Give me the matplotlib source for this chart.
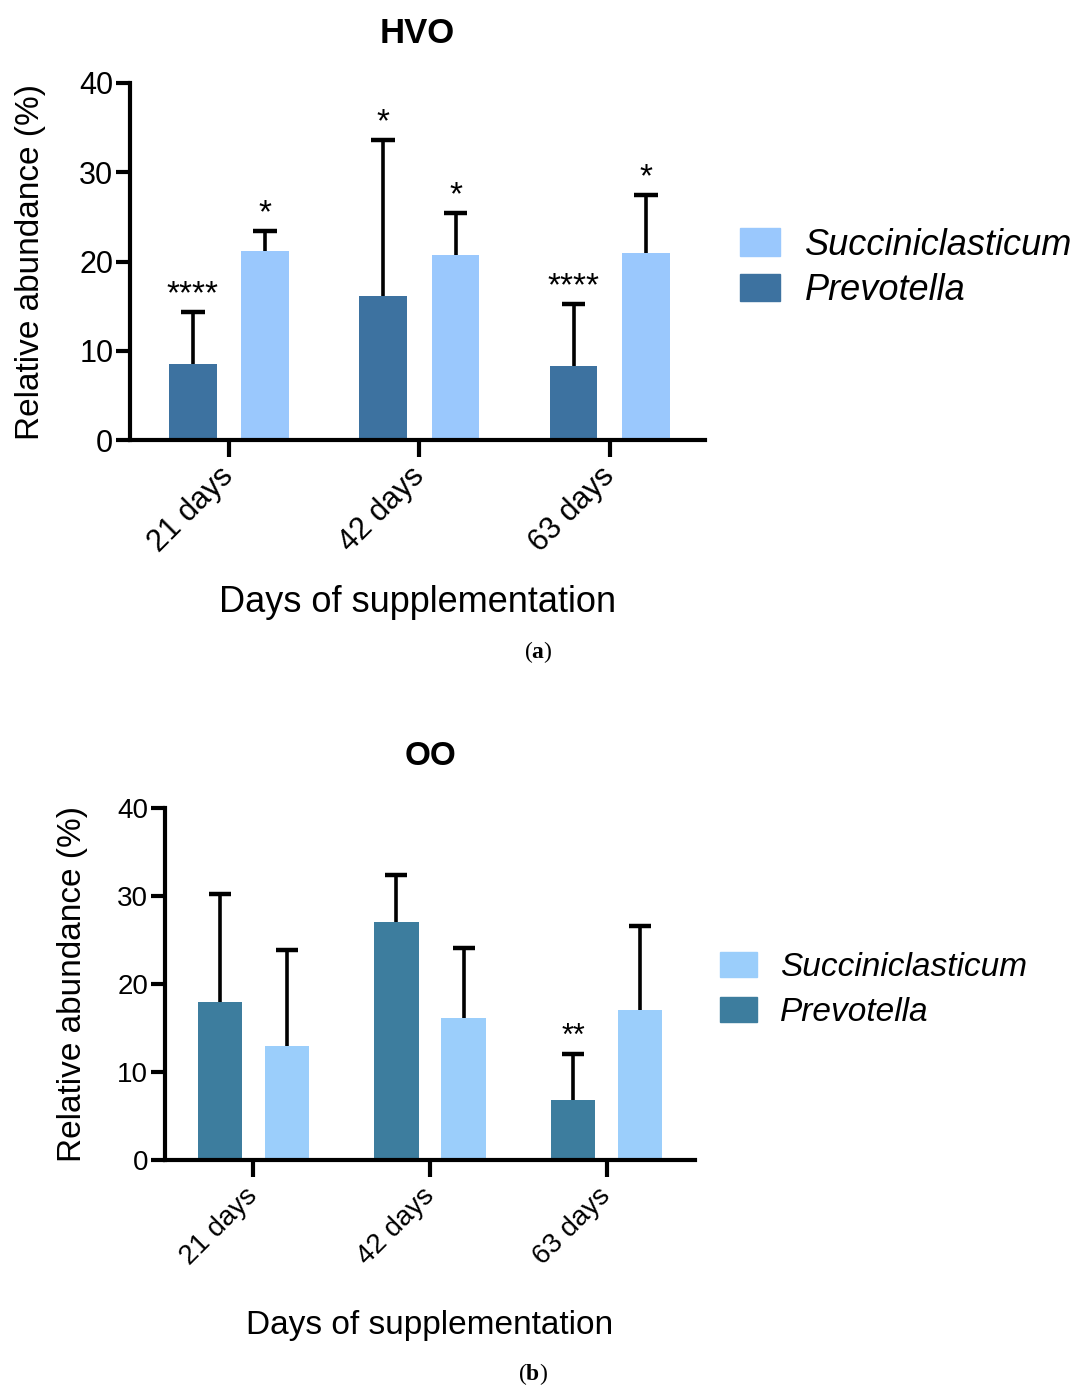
import matplotlib
matplotlib.use("Agg")
import matplotlib.pyplot as plt
from matplotlib.patches import Patch
import numpy as np

plt.rcParams['font.family'] = ['Liberation Sans', 'DejaVu Sans']
plt.rcParams['mathtext.fontset'] = 'custom'
plt.rcParams['mathtext.rm'] = 'Liberation Serif'
plt.rcParams['mathtext.bf'] = 'Liberation Serif:bold'

days = ["21 days", "42 days", "63 days"]

# HVO panel
hvo_prev = [8.5, 16.1, 8.3]
hvo_prev_err = [5.8, 17.5, 6.9]
hvo_succ = [21.2, 20.75, 20.9]
hvo_succ_err = [2.2, 4.65, 6.5]
hvo_prev_sig = ["****", "*", "****"]
hvo_succ_sig = ["*", "*", "*"]

# OO panel
oo_prev = [17.9, 27.05, 6.85]
oo_prev_err = [12.3, 5.35, 5.25]
oo_succ = [13.0, 16.1, 17.05]
oo_succ_err = [10.9, 8.0, 9.55]
oo_prev_sig = ["", "", "**"]
oo_succ_sig = ["", "", ""]

W, H = 1076, 1389
fig = plt.figure(figsize=(W / 100, H / 100), dpi=100)


def panel(rect, title, prev, prev_err, succ, succ_err, prev_sig, succ_sig,
          c_prev, c_succ, leg_xy, xlim, fs):
    ax = fig.add_axes(rect)
    x = np.arange(len(days))
    off, bw, cap = 0.19, 0.25, 0.062
    for xs, vals, errs, sig, col in [(x - off, prev, prev_err, prev_sig, c_prev),
                                     (x + off, succ, succ_err, succ_sig, c_succ)]:
        ax.bar(xs, vals, bw, color=col, zorder=2)
        tops = np.array(vals) + np.array(errs)
        ax.vlines(xs, vals, tops, color='black', lw=2.6, zorder=1)
        ax.hlines(tops, xs - cap, xs + cap, color='black', lw=3.2, zorder=1)
        for i in range(3):
            if sig[i]:
                ax.text(xs[i], tops[i] + 0.2, sig[i], ha='center', va='bottom',
                        fontsize=fs['sig'])
    ax.set_xlim(*xlim)
    ax.set_ylim(0, 40)
    ax.set_yticks([0, 10, 20, 30, 40])
    ax.set_xticks(x)
    ax.set_xticklabels(days, rotation=45, ha='right', va='center',
                       rotation_mode='anchor')
    for s in ['top', 'right']:
        ax.spines[s].set_visible(False)
    for s in ['left', 'bottom']:
        ax.spines[s].set_linewidth(3)
    ax.tick_params(axis='y', width=3, length=10, labelsize=fs['tick'], pad=2)
    ax.tick_params(axis='x', width=3, length=12, labelsize=fs['xtick'], pad=fs['xtpad'])
    ax.set_ylabel("Relative abundance (%)", fontsize=fs['label'], labelpad=fs['ypad'])
    ax.set_xlabel("Days of supplementation", fontsize=fs['xlabel'], labelpad=fs['xpad'])
    ax.set_title(title, fontsize=fs['title'], fontweight='bold', pad=fs['tpad'])
    handles = [Patch(color=c_succ, label="Succiniclasticum"),
               Patch(color=c_prev, label="Prevotella")]
    fig.legend(handles=handles, loc='center left', bbox_to_anchor=leg_xy,
               frameon=False, prop={'style': 'italic', 'size': fs['leg']},
               handlelength=1.1, handleheight=0.78, handletextpad=0.7,
               labelspacing=fs['lsp'], borderpad=0, borderaxespad=0)
    return ax


panel([130 / W, 1 - 440 / H, 575 / W, 357 / H], "HVO",
      hvo_prev, hvo_prev_err, hvo_succ, hvo_succ_err, hvo_prev_sig, hvo_succ_sig,
      '#3d72a0', '#9ac8fd', (740 / W, 1 - 268 / H), (-0.52, 2.5),
      dict(sig=24, tick=22, xtick=22, xtpad=11, label=24, ypad=24, xlabel=26,
           xpad=19, title=25, tpad=29, leg=26, lsp=0.3))

panel([165 / W, 1 - 1160 / H, 530 / W, 352 / H], "OO",
      oo_prev, oo_prev_err, oo_succ, oo_succ_err, oo_prev_sig, oo_succ_sig,
      '#3d7d9e', '#9bcefb', (720 / W, 1 - 990 / H), (-0.5, 2.5),
      dict(sig=22, tick=20, xtick=20, xtpad=11, label=24, ypad=21, xlabel=24,
           xpad=29, title=24, tpad=31, leg=24, lsp=0.42))

fig.text(538 / W, 1 - 652 / H, r"($\mathbf{a}$)", ha='center', va='center',
         fontsize=17, family='Liberation Serif')
fig.text(533 / W, 1 - 1374 / H, r"($\mathbf{b}$)", ha='center', va='center',
         fontsize=17, family='Liberation Serif')

fig.savefig("out.png", dpi=100)
